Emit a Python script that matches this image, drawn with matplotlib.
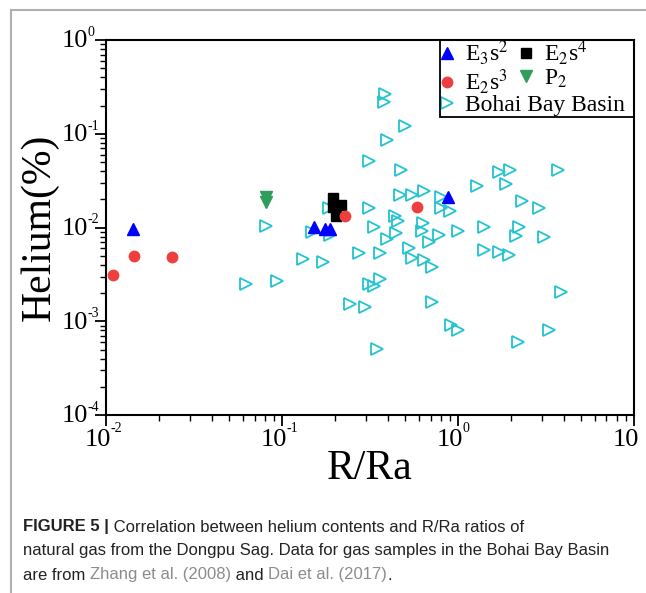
import matplotlib
matplotlib.use("Agg")
import matplotlib.pyplot as plt
from matplotlib.lines import Line2D
from matplotlib.patches import Rectangle

plt.rcParams['font.family'] = ['Liberation Serif', 'DejaVu Serif']
plt.rcParams['mathtext.fontset'] = 'stix'

# E3s2 (blue up triangles)
e3s2_rra = [0.0143, 0.152, 0.176, 0.187, 0.874]
e3s2_he = [0.0097, 0.0102, 0.0096, 0.0096, 0.0213]
# E2s4 (black squares)
e2s4_rra = [0.1955, 0.218, 0.202, 0.1955]
e2s4_he = [0.0208, 0.0174, 0.0134, 0.0167]
# E2s3 (red circles)
e2s3_rra = [0.0110, 0.0144, 0.0237, 0.228, 0.587]
e2s3_he = [0.0031, 0.0050, 0.0048, 0.0134, 0.0164]
# P2 (green down triangles)
p2_rra = [0.0808, 0.0808]
p2_he = [0.0213, 0.0188]
# Bohai Bay Basin (open cyan triangles)
bohai_rra = [0.386, 0.380, 0.502, 0.394, 0.313, 0.474, 1.28, 1.72, 1.98, 1.87,
             3.72, 0.472, 0.549, 0.644, 0.800, 0.807, 0.902, 2.31, 2.88, 0.313,
             0.1845, 0.438, 0.456, 0.333, 0.637, 0.629, 0.446, 0.394, 0.780, 0.684,
             1.00, 1.41, 2.24, 2.13, 3.09, 1.41, 1.71, 1.95, 0.148, 0.1875,
             0.273, 0.359, 0.1315, 0.171, 0.525, 0.551, 0.646, 0.710, 0.313, 0.333,
             0.361, 0.243, 0.295, 0.710, 3.85, 0.920, 1.00, 2.21, 3.30, 0.349,
             0.094, 0.0624, 0.0809]
bohai_he = [0.265, 0.217, 0.122, 0.0858, 0.0508, 0.0411, 0.0275, 0.0389, 0.0411, 0.0293,
            0.0411, 0.0222, 0.0221, 0.0245, 0.0213, 0.0163, 0.0152, 0.0193, 0.0163, 0.0161,
            0.0162, 0.01336, 0.01188, 0.0101, 0.01125, 0.00918, 0.00867, 0.00748, 0.00832, 0.00697,
            0.0091, 0.0102, 0.0102, 0.00815, 0.00798, 0.00575, 0.00544, 0.00505, 0.00895, 0.00838,
            0.00539, 0.00536, 0.00458, 0.00434, 0.00604, 0.00469, 0.0045, 0.00382, 0.00253, 0.0024,
            0.00281, 0.00152, 0.00141, 0.00162, 0.00203, 0.000912, 0.000807, 0.000605, 0.000807, 0.000502,
            0.00272, 0.00253, 0.01033]

# tick values and the exponent shown next to "10"
xticks = [0.01, 0.1, 1, 10]
xexps = ['-2', '-1', '0', '']
yticks = [1e-4, 1e-3, 1e-2, 1e-1, 1]
yexps = ['-4', '-3', '-2', '-1', '0']

cyan = '#22c4cf'
red = '#ee3e3e'
green = '#2f9e5c'

fig = plt.figure(figsize=(6.46, 5.93), dpi=100)
ax = fig.add_axes([0.164, 0.300, 0.817, 0.6325])

ax.plot(bohai_rra, bohai_he, ls='none', marker='>', ms=9, mfc='none', mec=cyan, mew=1.3, zorder=2)
ax.plot(e2s4_rra, e2s4_he, ls='none', marker='s', ms=7, color='black', zorder=3)
ax.plot(e3s2_rra, e3s2_he, ls='none', marker='^', ms=9, color='blue', zorder=4)
ax.plot(e2s3_rra, e2s3_he, ls='none', marker='o', ms=8.5, color=red, mec='none', zorder=5)
ax.plot(p2_rra, p2_he, ls='none', marker='v', ms=9, color=green, zorder=5)

ax.set_xscale('log')
ax.set_yscale('log')
ax.set_xlim(0.01, 10)
ax.set_ylim(1e-4, 1)
ax.set_xticks(xticks)
ax.set_yticks(yticks)
ax.tick_params(which='major', direction='out', length=8, width=1.3, top=False, right=False,
               labelbottom=False, labelleft=False)
ax.tick_params(which='minor', direction='out', length=4, width=1.0, top=False, right=False,
               labelbottom=False, labelleft=False)
for s in ax.spines.values():
    s.set_linewidth(1.5)

# tick labels as "10" with a small raised exponent, like the original
for v, e in zip(xticks, xexps):
    ax.annotate('10', xy=(v, 0), xycoords=('data', 'axes fraction'), xytext=(-6, -18),
                textcoords='offset points', ha='center', va='center', fontsize=19,
                annotation_clip=False)
    if e:
        ax.annotate(e, xy=(v, 0), xycoords=('data', 'axes fraction'), xytext=(3.5, -10),
                    textcoords='offset points', ha='left', va='center', fontsize=10,
                    annotation_clip=False)
for v, e in zip(yticks, yexps):
    ax.annotate('10', xy=(0, v), xycoords=('axes fraction', 'data'), xytext=(-13, -1),
                textcoords='offset points', ha='right', va='center', fontsize=19,
                annotation_clip=False)
    ax.annotate(e, xy=(0, v), xycoords=('axes fraction', 'data'), xytext=(-13, 5.5),
                textcoords='offset points', ha='left', va='center', fontsize=10,
                annotation_clip=False)

ax.set_xlabel('R/Ra', fontsize=30)
ax.set_ylabel('Helium(%)', fontsize=30)
ax.xaxis.set_label_coords(0.5, -0.092)
ax.yaxis.set_label_coords(-0.09, 0.5)

# legend: two rows of paired entries, then one wide row
h_e3s2 = Line2D([], [], ls='none', marker='^', ms=9, color='blue')
h_e2s4 = Line2D([], [], ls='none', marker='s', ms=7, color='black')
h_e2s3 = Line2D([], [], ls='none', marker='o', ms=8.5, color=red, mec='none')
h_p2 = Line2D([], [], ls='none', marker='v', ms=9, color=green)
h_bohai = Line2D([], [], ls='none', marker='>', ms=9, mfc='none', mec=cyan, mew=1.3)

leg_kw = dict(frameon=False, fontsize=17, handlelength=0.75, handletextpad=0.38,
              borderpad=0.2, borderaxespad=0, labelspacing=0.0, columnspacing=0.35,
              loc='upper left')
leg1 = ax.legend([h_e3s2, h_e2s3, h_e2s4, h_p2],
                 [r'E$_3$s$^2$', r'E$_2$s$^3$', r'E$_2$s$^4$', r'P$_2$'],
                 ncol=2, bbox_to_anchor=(0.621, 1.017), **leg_kw)
ax.add_artist(leg1)
ax.legend([h_bohai], ['Bohai Bay Basin'], bbox_to_anchor=(0.621, 0.868), **leg_kw)
ax.add_patch(Rectangle((0.633, 0.795), 0.367, 0.205, transform=ax.transAxes,
                       fill=False, lw=1.3, ec='black', zorder=6, clip_on=False))

# figure border (panel frame)
fig.add_artist(Line2D([11 / 646, 11 / 646], [0, 1 - 10 / 593], color='#b0b0b0', lw=1.5))
fig.add_artist(Line2D([11 / 646, 1], [1 - 10 / 593, 1 - 10 / 593], color='#b0b0b0', lw=1.5))

# caption
cap_font = ['Liberation Sans', 'DejaVu Sans']
cap_lines = [
    [('FIGURE 5 |', '#222222', 'bold'),
     (' Correlation between helium contents and R/Ra ratios of', '#222222', 'normal')],
    [('natural gas from the Dongpu Sag. Data for gas samples in the Bohai Bay Basin', '#222222', 'normal')],
    [('are from ', '#222222', 'normal'), ('Zhang et al. (2008)', '#8c8c8c', 'normal'),
     (' and ', '#222222', 'normal'), ('Dai et al. (2017)', '#8c8c8c', 'normal'),
     ('.', '#222222', 'normal')],
]
cap_y = [527, 551, 575]
renderer = fig.canvas.get_renderer()
for line, ypx in zip(cap_lines, cap_y):
    xpx = 23
    for txt, col, wt in line:
        t = fig.text(xpx / 646, 1 - ypx / 593, txt, color=col, fontweight=wt,
                     fontsize=12, family=cap_font, va='center', ha='left')
        bb = t.get_window_extent(renderer=renderer)
        xpx += bb.width

fig.savefig('out.png', dpi=100)
